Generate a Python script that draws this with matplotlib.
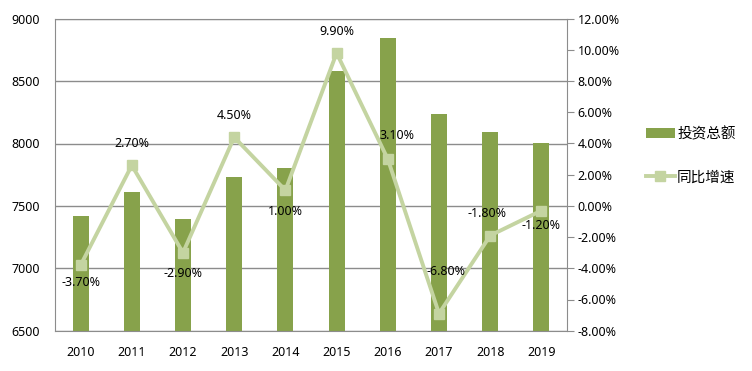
import matplotlib
matplotlib.use("Agg")
import matplotlib.pyplot as plt
import numpy as np

years = ["2010", "2011", "2012", "2013", "2014", "2015", "2016", "2017", "2018", "2019"]
investment = [7420, 7610, 7395, 7732, 7804, 8581, 8845, 8236, 8092, 8002]
growth = [-3.8, 2.6, -3.0, 4.4, 1.0, 9.8, 3.0, -6.9, -1.9, -0.3]
growth_labels = ["-3.70%", "2.70%", "-2.90%", "4.50%", "1.00%", "9.90%", "3.10%", "-6.80%", "-1.80%", "-1.20%"]
label_offsets_px = [(0, -17), (0, 22), (0, -21), (0, 22), (0, -21), (0, 22), (9, 24), (7, 42), (-3, 22), (0, -15)]

plt.rcParams['font.family'] = ['Noto Sans', 'Noto Sans CJK SC', 'DejaVu Sans']

BAR = "#87A24B"
LINE = "#C4D4A1"
GRID = "#8C8C8C"
FS = 9

fig = plt.figure(figsize=(7.52, 3.71), dpi=100)
ax = fig.add_axes([55/752, 1-330.7/371, 512/752, 312/371])
x = np.arange(len(years))
bars = ax.bar(x, investment, width=0.31, color=BAR, zorder=2, label="投资总额")
ax.set_ylim(6500, 9000)
ax.set_xlim(-0.5, len(years)-0.5)
ax.set_yticks(np.arange(6500, 9001, 500))
ax.set_xticks(x)
ax.set_xticklabels(years)
ax.grid(axis='y', color=GRID, linewidth=1, zorder=0)
for s in ['left', 'bottom', 'top']:
    ax.spines[s].set_color(GRID)
ax.spines['right'].set_visible(False)
ax.tick_params(axis='both', length=0, labelsize=FS, colors='black')
ax.tick_params(axis='y', pad=11)
ax.tick_params(axis='x', pad=11)

ax2 = ax.twinx()
ax2.set_ylim(-8, 12)
ax2.set_yticks(np.arange(-8, 12.01, 2))
ax2.set_yticklabels([f"{v:.2f}%" for v in np.arange(-8, 12.01, 2)])
for s in ['left', 'bottom', 'top']:
    ax2.spines[s].set_visible(False)
ax2.spines['right'].set_color(GRID)
ax2.tick_params(axis='y', length=5, color=GRID, direction='out', labelsize=FS, pad=2.5)
line, = ax2.plot(x, growth, color=LINE, linewidth=2.8, marker='s', markersize=7.5,
                 markerfacecolor=LINE, markeredgecolor=LINE, zorder=3, label="同比增速")
for xi, yi, lab, (dx, dy) in zip(x, growth, growth_labels, label_offsets_px):
    ax2.annotate(lab, (xi, yi), xytext=(dx*0.72, dy*0.72), textcoords='offset points',
                 ha='center', va='center', fontsize=FS, color='black', zorder=4)

fig.legend(handles=[bars, line], labels=["投资总额", "同比增速"], loc='center left',
           bbox_to_anchor=(640/752, 1-155.5/371), frameon=False,
           prop={'family': ['Noto Sans CJK SC', 'DejaVu Sans'], 'size': 10.5},
           labelspacing=2.0, handlelength=2.0, handletextpad=0.15, borderaxespad=0)

fig.savefig("out.png", dpi=100)
